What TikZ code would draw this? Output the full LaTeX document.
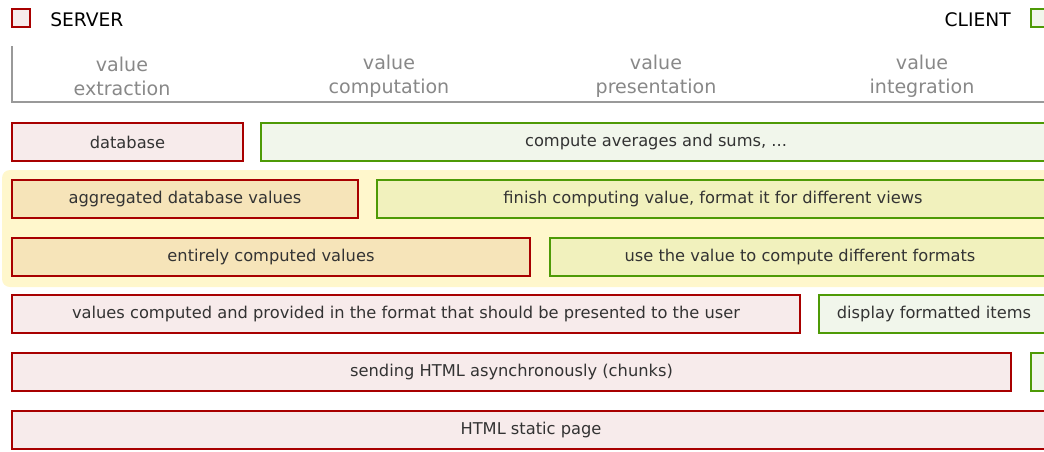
\documentclass[tikz,border=0pt]{standalone}
\usepackage{fontspec}
\setmainfont{DejaVu Sans}
\definecolor{srvline}{HTML}{A80000}
\definecolor{srvfill}{HTML}{F7EBEB}
\definecolor{cliline}{HTML}{4E9A06}
\definecolor{clifill}{HTML}{F1F6EB}
\definecolor{hlfill}{HTML}{FFF7CC}
\definecolor{srvhl}{HTML}{F6E4B9}
\definecolor{clihl}{HTML}{F1F1BD}
\definecolor{axisgray}{HTML}{999999}
\definecolor{headgray}{HTML}{888888}
\definecolor{txt}{HTML}{333333}
\begin{document}
\begin{tikzpicture}[x=0.75pt,y=-0.75pt,
  box/.style n args={4}{rectangle, inner sep=0pt, outer sep=0pt, line width=1.6pt,
    minimum width={(#3-#1)*0.75pt}, minimum height={(#4-#2)*0.75pt},
    at={({(#1+#3)/2},{(#2+#4)/2})}, font=\fontsize{12.2}{14}\selectfont, text=txt},
  srv/.style={draw=srvline, fill=srvfill},
  cli/.style={draw=cliline, fill=clifill},
  srvh/.style={draw=srvline, fill=srvhl},
  clih/.style={draw=cliline, fill=clihl},
  head/.style={text=headgray, font=\fontsize{14.3}{18}\selectfont, align=center, inner sep=0pt},
  legend/.style={font=\fontsize{14}{16}\selectfont, inner sep=0pt}]
\useasboundingbox (0,0) rectangle (1044,451);
\clip (0,0) rectangle (1044,451);
% legend
\node[box={12}{9}{30}{27}, srv] (srvkey) {};
\node[legend, anchor=west] (srvlab) at (50,20) {SERVER};
\node[box={1031}{9}{1049}{27}, cli] (clikey) {};
\node[legend, anchor=east] (clilab) at (1011,20) {CLIENT};
% axis
\coordinate (axtop) at (12,46);
\coordinate (axcorner) at (12,102);
\coordinate (axend) at (1060,102);
\draw[axisgray, line width=1.6pt] (axtop) -- (axcorner) -- (axend);
\node[head] (h1) at (122,76) {value\\extraction};
\node[head] (h2) at (389,76) {value\\computation};
\node[head] (h3) at (656,76) {value\\presentation};
\node[head] (h4) at (922,76) {value\\integration};
% highlight band
\node[box={2}{170}{1070}{287}, fill=hlfill, rounded corners=6pt, line width=0pt] (band) {};
% rows
\node[box={12}{123}{243}{161}, srv] (r1s) {database};
\node[box={261}{123}{1051}{161}, cli] (r1c) {compute averages and sums, ...};
\node[box={12}{180}{358}{218}, srvh] (r2s) {aggregated database values};
\node[box={377}{180}{1049}{218}, clih] (r2c) {finish computing value, format it for different views};
\node[box={12}{238}{530}{276}, srvh] (r3s) {entirely computed values};
\node[box={550}{238}{1050}{276}, clih] (r3c) {use the value to compute different formats};
\node[box={12}{295}{800}{333}, srv] (r4s) {values computed and provided in the format that should be presented to the user};
\node[box={819}{295}{1049}{333}, cli] (r4c) {display formatted items};
\node[box={12}{353}{1011}{391}, srv] (r5s) {sending HTML asynchronously (chunks)};
\node[box={1031}{353}{1070}{391}, cli] (r5c) {};
\node[box={12}{411}{1050}{449}, srv] (r6s) {HTML static page};
\end{tikzpicture}
\end{document}
